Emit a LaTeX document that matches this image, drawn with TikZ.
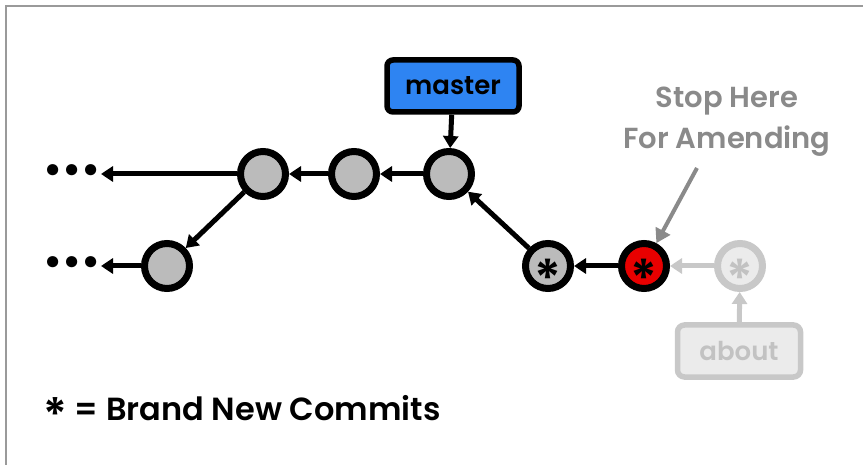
\documentclass[tikz,border=0pt]{standalone}
\usepackage{fontspec}
\setmainfont{Poppins}
\newfontfamily\medfont{Poppins SemiBold}
\usetikzlibrary{arrows.meta}
\definecolor{cgray}{HTML}{BBBBBB}
\definecolor{cred}{HTML}{E80000}
\definecolor{cblue}{HTML}{2E84F2}
\definecolor{fline}{HTML}{C8C8C8}
\definecolor{ffill}{HTML}{EBEBEB}
\definecolor{ftext}{HTML}{C2C2C2}
\definecolor{note}{HTML}{8A8A8A}
\definecolor{frame}{HTML}{9A9A9A}
\tikzset{
  commit/.style={circle, draw=black, line width=7pt, fill=cgray, minimum size=45pt, inner sep=0pt},
  redcommit/.style={commit, fill=cred},
  ghost/.style={commit, draw=fline, fill=ffill},
  conn/.style={line width=5pt, -{Triangle[length=12pt,width=15pt]}},
  ghostconn/.style={conn, draw=fline},
  notearrow/.style={line width=4pt, draw=note, -{Triangle[length=14pt,width=16pt]}},
  star/.style={font=\medfont\fontsize{52}{52}\selectfont, yshift=-12pt},
  dots/.style={font=\medfont\fontsize{40}{40}\selectfont, inner sep=0pt},
}
\begin{document}
\begin{tikzpicture}[x=1pt,y=-1pt]
\useasboundingbox (0,0) rectangle (863,465);
\draw[frame, line width=2pt] (6,465) -- (6,6) -- (863,6);
% commits
\node[commit] (c1) at (263,174) {};
\node[commit] (c2) at (354,174) {};
\node[commit] (c3) at (449,174) {};
\node[commit] (c4) at (167,266) {};
\node[commit] (n1) at (548,266) {};
\node[star] at (n1) {*};
\node[redcommit] (n2) at (644,266) {};
\node[star] at (n2) {*};
\node[ghost] (n3) at (740,266) {};
\node[star, text=ftext] at (n3) {*};
% dots
\node[dots] (d1) at (72,174) {\raisebox{-2pt}{•••}};
\node[dots] (d2) at (72,266) {\raisebox{-2pt}{•••}};
% branches
\node[draw=black, line width=5.5pt, fill=cblue, rounded corners=6pt, minimum width=132pt, minimum height=52pt, font=\medfont\fontsize{26}{26}\selectfont] (master) at (453,86) {master};
\node[draw=fline, line width=5.5pt, fill=ffill, rounded corners=7pt, minimum width=123pt, minimum height=52pt, text=ftext, font=\medfont\fontsize{26}{26}\selectfont] (about) at (739,351) {about};
% connectors
\draw[conn] (c1) -- (d1);
\draw[conn] (c2) -- (c1);
\draw[conn] (c3) -- (c2);
\draw[conn] (c1) -- (c4);
\draw[conn] (c4) -- (d2);
\draw[conn] (n1) -- (c3);
\draw[conn] (n2) -- (n1);
\draw[ghostconn] (n3) -- (n2);
\draw[ghostconn] (about) -- (n3);
\draw[conn] (master) -- (c3);
% note
\node[text=note, font=\medfont\fontsize{29}{41}\selectfont, align=center] (stop) at (727,122) {Stop Here\\For Amending};
\coordinate (ns) at (697,168);
\draw[notearrow] (ns) -- (n2);
% legend
\node[anchor=west, font=\medfont\fontsize{32}{32}\selectfont] (legend) at (40,413) {\raisebox{-11pt}{\fontsize{46}{46}\selectfont*} = Brand New Commits};
\end{tikzpicture}
\end{document}
